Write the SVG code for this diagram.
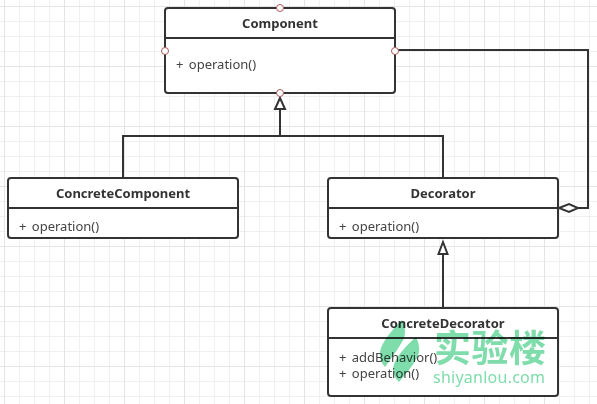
<svg xmlns="http://www.w3.org/2000/svg" width="597" height="404" viewBox="0 0 597 404">
<defs>
<pattern id="g" x="4" y="6" width="15" height="15" patternUnits="userSpaceOnUse"><path d="M0.5 0V15M0 0.5H15" fill="none" stroke="#f0f0f0" stroke-width="1"/></pattern>
<pattern id="G" x="4" y="6" width="60" height="60" patternUnits="userSpaceOnUse"><path d="M0.5 0V60M0 0.5H60" fill="none" stroke="#e4e4e4" stroke-width="1"/></pattern>
</defs>
<style>
.b{fill:#fff;stroke:#333;stroke-width:2}
.d{stroke:#333;stroke-width:2;fill:none}
.c{fill:none;stroke:#333;stroke-width:2}
.a{fill:#fff;stroke:#333;stroke-width:2}
.p{fill:#fff;stroke:#a85a5a;stroke-width:1}
text{font-family:"Noto Sans","Open Sans",sans-serif;fill:#444;font-size:13px;word-spacing:2px}
.t{font-weight:700;text-anchor:middle;fill:#333}
.w{fill:#7fdcab;word-spacing:0}
</style>
<rect width="597" height="404" fill="#fff"/>
<rect width="597" height="404" fill="url(#g)"/>
<rect width="597" height="404" fill="url(#G)"/>
<g id="connectors">
<path class="c" d="M280 136V109M123 178V136H443V178M443 308V254M558 208H588V50H395"/>
<path class="a" d="M280 98L285 109H275Z"/>
<path class="a" d="M443 242L447.500 254H438.500Z"/>
<path class="a" d="M559 208L569 204L578 208L569 212Z"/>
</g>
<g id="component">
<rect class="b" x="165" y="8" width="230" height="85" rx="3"/>
<path class="d" d="M165 38H395"/>
<text class="t" x="280" y="28">Component</text>
<text x="176" y="69">+ operation()</text>
<circle class="p" cx="280" cy="8" r="3.500"/><circle class="p" cx="165" cy="51" r="3.500"/><circle class="p" cx="395" cy="51" r="3.500"/><circle class="p" cx="280" cy="93" r="3.500"/>
</g>
<g id="concrete-component">
<rect class="b" x="8" y="178" width="230" height="60" rx="3"/>
<path class="d" d="M8 208H238"/>
<text class="t" x="123" y="198">ConcreteComponent</text>
<text x="19" y="231">+ operation()</text>
</g>
<g id="decorator">
<rect class="b" x="328" y="178" width="230" height="60" rx="3"/>
<path class="d" d="M328 208H558"/>
<text class="t" x="443" y="198">Decorator</text>
<text x="339" y="231">+ operation()</text>
</g>
<g id="concrete-decorator">
<rect class="b" x="328" y="308" width="230" height="88" rx="3"/>
<path class="d" d="M328 338H558"/>
<text class="t" x="443" y="328">ConcreteDecorator</text>
<text x="339" y="362">+ addBehavior()</text>
<text x="339" y="378">+ operation()</text>
</g>
<g id="watermark" style="mix-blend-mode:multiply">
<path d="M402 320C406 328 406 336 402 342C396 352 390 360 385 367C380 362 379 354 381 348C385 338 394 328 402 320ZM416 337C420 345 420 352 417 358C412 367 405 375 399 382C394 377 392 371 394 364C398 354 408 344 416 337Z" fill="#7fdcab"/>
<text class="w" x="434" y="362" textLength="112" style="font-family:'Noto Sans CJK SC',sans-serif;font-size:37px;font-weight:700">实验楼</text>
<text class="w" x="433" y="383" textLength="112" style="font-family:'Noto Sans',sans-serif;font-size:16px">shiyanlou.com</text>
</g>
</svg>
